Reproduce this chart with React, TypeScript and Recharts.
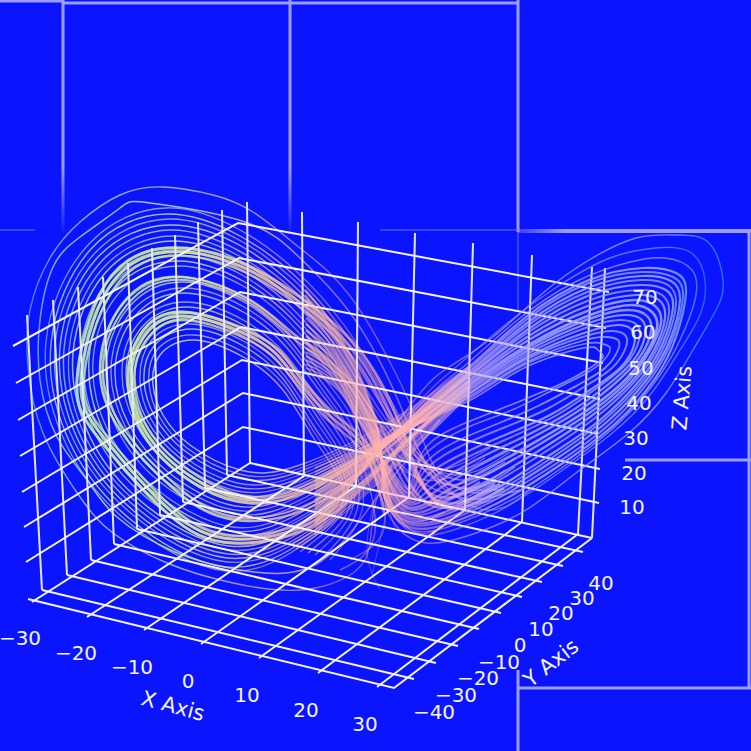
import { LineChart, Line, XAxis, YAxis } from 'recharts'

type Pt = [number, number]

const leftWing: Pt[][] = [
  [[500,490],[445,480],[418,425],[395,372],[350,296],[300,248],[253,212],[213,195],[163,187],[120,195],[80,222],[50,258],[30,310],[28,367],[43,433],[80,497],[113,533],[167,563],[233,583],[300,590],[353,573],[370,543],[375,505],[392,465]],
  [[520,490],[445,490],[398,400],[348,310],[300,258],[245,222],[150,203],[120,208],[80,237],[53,267],[40,320],[40,380],[57,437],[87,480],[117,517],[175,552],[240,570],[315,565],[375,500],[440,420]],
  [[525,482],[458,498],[395,408],[344,325],[295,270],[240,230],[166,208],[88,245],[46,342],[66,444],[128,522],[226,571],[314,537],[395,468],[470,394]],
  [[505,462],[438,482],[393,410],[342,329],[294,275],[240,236],[167,214],[91,249],[51,344],[70,443],[130,519],[226,567],[314,534],[395,466],[470,393]],
  [[535,486],[470,505],[390,413],[341,334],[294,280],[241,241],[169,219],[94,254],[55,345],[74,441],[133,515],[227,562],[313,531],[395,464],[470,391]],
  [[515,458],[450,478],[388,415],[340,339],[293,285],[241,246],[170,225],[97,258],[60,347],[78,440],[135,512],[227,558],[313,528],[395,462],[470,390]],
  [[525,470],[462,490],[385,418],[339,343],[293,290],[241,252],[171,230],[100,263],[64,349],[82,439],[138,509],[228,554],[312,525],[395,460],[470,389]],
  [[505,450],[442,470],[383,421],[337,348],[292,295],[241,257],[172,236],[103,268],[69,351],[86,438],[141,506],[229,550],[311,522],[394,458],[470,388]],
  [[515,467],[452,486],[380,423],[336,353],[292,300],[242,262],[173,241],[106,272],[73,353],[90,437],[143,503],[229,546],[311,519],[394,456],[470,387]],
  [[500,484],[436,500],[400,425],[357,347],[300,297],[240,262],[167,248],[105,285],[77,380],[100,440],[167,513],[233,543],[320,522],[394,455],[470,386]],
  [[504,488],[440,505],[397,429],[354,351],[298,301],[240,266],[168,252],[108,289],[81,380],[104,438],[170,510],[234,539],[318,519],[394,453],[470,385]],
  [[496,480],[433,495],[395,432],[351,355],[296,304],[240,270],[169,256],[111,293],[84,380],[107,436],[172,507],[235,536],[316,516],[394,452],[470,385]],
  [[510,452],[448,474],[377,427],[334,360],[291,307],[242,270],[175,250],[110,279],[80,355],[96,435],[147,498],[230,539],[310,514],[394,453],[470,385]],
  [[490,448],[430,470],[374,430],[333,364],[290,312],[242,275],[176,255],[113,284],[84,357],[100,434],[150,495],[231,535],[309,512],[394,451],[470,384]],
  [[505,470],[442,492],[372,432],[332,369],[290,317],[243,281],[178,261],[116,288],[89,359],[104,432],[152,491],[231,531],[309,508],[394,449],[470,382]],
  [[485,458],[425,480],[369,435],[330,374],[289,322],[243,286],[179,266],[119,293],[93,361],[108,431],[155,488],[232,527],[308,505],[394,447],[470,381]],
  [[495,484],[430,505],[385,435],[345,375],[295,335],[245,297],[170,277],[118,310],[100,370],[120,430],[175,490],[235,520],[315,505],[393,445],[470,380]],
  [[480,482],[420,500],[382,438],[342,378],[293,338],[245,300],[172,280],[121,313],[103,370],[123,428],[178,487],[236,517],[313,502],[393,444],[470,380]],
  [[450,522],[405,525],[364,440],[328,383],[288,332],[244,297],[181,277],[125,302],[102,364],[117,429],[160,482],[233,518],[307,500],[393,443],[470,379]],
  [[445,512],[398,515],[361,443],[326,388],[288,338],[244,302],[182,282],[129,307],[106,366],[121,428],[163,479],[234,514],[306,497],[393,441],[470,378]],
  [[350,560],[385,522],[359,445],[325,393],[288,343],[244,307],[184,288],[132,311],[111,368],[125,426],[165,475],[234,510],[306,493],[393,439],[470,376]],
  [[340,570],[375,532],[356,448],[324,397],[287,348],[245,313],[185,293],[135,316],[115,370],[129,425],[168,472],[235,506],[305,490],[393,437],[470,375]],
  [[392,510],[372,450],[333,413],[295,370],[260,337],[183,312],[140,335],[128,380],[147,440],[200,487],[250,503],[310,490],[393,436],[470,374]],
  [[388,512],[369,453],[330,416],[292,373],[257,340],[184,316],[143,338],[131,380],[150,438],[203,484],[252,500],[309,487],[393,435],[470,374]],
  [[384,514],[366,456],[327,419],[290,376],[254,343],[185,320],[146,341],[134,380],[153,436],[206,481],[254,497],[308,484],[393,434],[470,373]],
  [[330,560],[362,510],[353,452],[322,404],[286,355],[245,321],[187,302],[139,323],[122,372],[135,423],[172,467],[235,499],[304,486],[393,434],[470,373]],
  [[322,558],[357,510],[350,454],[321,409],[286,360],[245,326],[188,307],[142,327],[126,374],[139,422],[174,464],[236,495],[304,483],[393,432],[470,372]],
  [[315,555],[352,510],[347,457],[319,414],[285,365],[245,331],[189,313],[145,332],[131,376],[143,421],[177,461],[237,491],[303,480],[393,430],[470,371]],
  [[308,553],[349,509],[344,460],[318,418],[285,370],[245,337],[190,318],[148,337],[135,378],[147,420],[180,458],[237,487],[303,477],[393,428],[470,370]],
  [[300,552],[345,508],[342,462],[317,423],[284,375],[245,342],[191,324],[151,341],[140,380],[151,419],[182,455],[237,483],[302,474],[392,426],[470,369]],
  [[296,549],[343,508],[340,465],[315,428],[284,380],[245,347],[193,329],[154,346],[144,381],[155,417],[185,451],[238,478],[301,471],[392,424],[470,367]],
  [[293,547],[341,508],[337,467],[314,432],[284,385],[245,353],[194,335],[157,350],[149,383],[159,416],[187,448],[239,474],[301,468],[392,422],[470,366]],
  [[290,545],[340,508],[335,470],[313,437],[283,390],[245,358],[195,340],[160,355],[153,385],[163,415],[190,445],[240,470],[300,465],[392,420],[470,365]],
]
const leftWidths = [1.4,1.5,1.3,1.4,1.3,1.4,1.5,1.3,1.5,3,3,2.4,1.4,1.3,1.4,1.3,2.4,2.2,1.3,1.4,1.3,1.4,3,3,2.4,1.3,1.4,1.3,1.4,1.3,1.4,1.3,1.4]
const leftOpacity = [0.7,0.8,0.65,0.8,0.65,0.8,0.7,0.65,0.8,0.95,0.95,0.85,0.7,0.65,0.8,0.65,0.9,0.85,0.65,0.75,0.65,0.75,0.95,0.95,0.85,0.65,0.75,0.65,0.75,0.65,0.75,0.65,0.8]

const rightWing: Pt[][] = [
  [[315,535],[409,407],[449,367],[493,337],[543,293],[589,260],[636,238],[676,235],[709,243],[723,280],[716,310],[693,350],[666,393],[629,433],[576,473],[526,510],[476,533],[426,543],[392,520],[372,470],[350,400]],
  [[315,531],[412,410],[455,368],[505,325],[560,285],[610,258],[655,248],[690,252],[705,280],[700,315],[680,350],[650,395],[610,435],[560,472],[510,505],[465,526],[420,535],[390,510],[370,460],[342,385]],
  [[315,528],[414,411],[462,368],[515,322],[575,282],[630,262],[665,258],[692,270],[695,300],[680,340],[660,375],[622,420],[570,462],[515,498],[462,522],[415,531],[386,500],[366,440],[338,368]],
  [[315,524],[416,413],[469,367],[526,317],[589,280],[643,268],[676,273],[686,293],[676,337],[656,377],[616,423],[563,463],[509,497],[459,520],[409,527],[383,490],[378,430],[345,345],[305,290]],
  [[315,521],[416,413],[469,369],[526,320],[589,283],[642,272],[673,277],[683,296],[673,338],[652,377],[612,422],[560,461],[506,494],[457,517],[408,524],[384,489],[378,431],[345,349],[305,295]],
  [[315,517],[417,414],[470,371],[527,323],[590,287],[642,276],[671,281],[680,300],[670,340],[648,378],[608,421],[556,459],[503,492],[455,515],[408,522],[384,488],[378,432],[345,352],[306,300]],
  [[315,514],[417,415],[470,373],[527,326],[590,291],[641,280],[668,285],[676,304],[666,342],[644,379],[604,420],[553,457],[500,490],[452,512],[408,519],[385,486],[377,433],[345,356],[306,306]],
  [[315,510],[418,416],[470,375],[527,330],[590,295],[640,285],[666,290],[673,308],[662,345],[640,380],[600,420],[550,455],[497,488],[450,510],[408,517],[385,485],[377,434],[345,360],[306,312]],
  [[315,507],[418,417],[470,376],[527,333],[590,300],[638,290],[662,295],[669,313],[658,347],[635,381],[595,418],[545,452],[494,483],[447,506],[408,514],[386,483],[376,435],[345,364],[306,318]],
  [[315,503],[419,418],[471,378],[527,337],[590,305],[636,295],[659,300],[665,318],[654,350],[630,383],[590,417],[540,450],[491,479],[445,502],[408,512],[386,481],[376,436],[345,368],[306,324]],
  [[315,500],[419,419],[471,380],[527,341],[590,310],[634,300],[655,306],[661,323],[649,352],[625,384],[585,416],[535,447],[488,474],[442,498],[408,509],[387,479],[375,437],[345,371],[306,330]],
  [[315,496],[420,420],[472,382],[528,345],[590,315],[632,305],[652,312],[657,328],[645,355],[620,385],[580,415],[530,445],[485,470],[440,495],[408,507],[387,478],[375,438],[345,374],[306,336]],
  [[315,493],[420,420],[472,384],[527,348],[589,319],[628,310],[647,316],[651,332],[639,358],[612,386],[572,415],[522,443],[478,466],[436,491],[408,504],[387,476],[374,439],[344,377],[306,342]],
  [[315,489],[420,421],[473,386],[527,351],[589,323],[625,315],[642,320],[645,336],[633,361],[605,387],[565,415],[515,441],[472,462],[432,487],[408,502],[387,475],[374,440],[344,380],[306,348]],
  [[315,486],[420,422],[473,388],[527,354],[588,327],[621,320],[637,325],[639,340],[626,364],[597,388],[557,415],[507,439],[466,458],[428,482],[408,500],[388,473],[373,441],[344,383],[306,352]],
  [[315,482],[420,423],[474,390],[527,357],[587,332],[618,325],[632,330],[634,345],[620,368],[590,390],[550,415],[500,437],[460,455],[425,478],[408,498],[388,472],[373,442],[344,386],[306,356]],
  [[315,479],[419,423],[474,391],[527,359],[586,336],[613,331],[625,335],[626,347],[612,368],[584,387],[545,410],[498,430],[457,448],[423,473],[408,496],[389,471],[372,442],[343,388],[306,360]],
  [[315,475],[418,424],[475,393],[527,362],[585,340],[608,337],[618,340],[618,350],[605,368],[578,385],[540,405],[497,424],[455,442],[422,468],[409,494],[389,470],[372,443],[342,390],[306,364]],
  [[315,472],[416,424],[475,395],[526,364],[584,344],[603,344],[610,348],[604,360],[585,374],[553,390],[512,410],[473,425],[436,445],[415,470],[407,492],[390,469],[372,443],[341,391],[306,368]],
  [[315,468],[415,425],[476,397],[526,367],[583,348],[598,350],[603,357],[590,368],[565,382],[530,397],[493,412],[450,430],[420,457],[410,490],[390,468],[372,444],[340,392],[305,372]],
  [[380,590],[368,560],[370,520],[385,470],[410,430]],
  [[395,528],[388,500],[392,465],[408,430]],
  [[372,575],[380,540],[392,495],[415,445]],
]
const rightWidths = [1.4,1.4,1.5,2.2,2,2.2,2,2.2,2,2.2,2.4,2.6,2.4,2.2,2,2.2,2,1.8,1.6,1.6,1,1,1]
const rightOpacity = [0.75,0.6,0.7,0.85,0.75,0.85,0.75,0.85,0.75,0.85,0.85,0.9,0.85,0.85,0.75,0.85,0.75,0.8,0.75,0.8,0.5,0.5,0.5]

// floor and wall grid
const xGrid: Pt[][] = [
  [[32,602],[250,463]], [[87,617],[304,476]], [[144,630],[356,486]], [[201,644],[409,497]],
  [[259,658],[465,510]], [[318,673],[522,522]], [[377,687],[578,534]],
]
const yGrid: Pt[][] = [
  [[227,475],[583,552]], [[205,488],[563,566]], [[183,502],[542,582]], [[160,515],[522,597]], [[137,529],[501,613]],
  [[114,544],[479,629]], [[91,560],[458,646]], [[67,575],[436,663]], [[42,590],[414,679]],
]
const floorEdges: Pt[][] = [
  [[28,599],[394,688],[592,538]],
  [[250,463],[592,538]],
]
const wallVerticals: Pt[][] = [
  [[27,315],[42,590]], [[53,300],[67,575]], [[78,287],[91,560]], [[103,277],[114,544]], [[128,263],[137,529]],
  [[152,248],[160,515]], [[175,235],[183,502]], [[198,222],[205,488]], [[222,210],[227,475]], [[247,202],[250,463]],
  [[302,212],[304,476]], [[358,222],[356,486]], [[415,233],[409,497]], [[473,243],[465,510]], [[532,255],[522,522]],
  [[592,267],[578,534]], [[605,268],[592,538]],
]
const zGrid: Pt[][] = [
  [[13,346],[238,223],[609,292]], [[16,383],[239,258],[606,328]], [[18,420],[240,292],[603,363]], [[20,456],[241,327],[600,399]],
  [[22,492],[242,360],[598,434]], [[24,527],[243,393],[600,469]], [[26,562],[243,427],[599,503]],
]

// the lavender panel lines behind the plot
const panelSolid: Pt[][] = [
  [[0,1],[63,1]], [[63,3],[518,3]], [[749,230],[749,688]], [[518,688],[751,688]], [[518,670],[518,751]], [[518,0],[518,232]],
]
const panelFading: Pt[][] = [[[63,0],[63,232]], [[290,0],[290,232]]]
const panelAcross: Pt[][] = [[[518,231],[751,231]], [[625,460],[751,460]]]
const panelFaint: Pt[][] = [[[0,230],[35,230]], [[380,230],[518,230]], [[518,232],[518,310]]]

const xTickText = ['\u221230', '\u221220', '\u221210', '0', '10', '20', '30']
const xTickAt: Pt[] = [[20,638],[76,653],[132,667],[188,681],[247,695],[306,710],[365,724]]
const yTickText = ['\u221240', '\u221230', '\u221220', '\u221210', '0', '10', '20', '30', '40']
const yTickAt: Pt[] = [[434,712],[456,695],[478,678],[499,662],[520,645],[541,629],[561,613],[582,598],[601,583]]
const zTickText = ['10', '20', '30', '40', '50', '60', '70']
const zTickAt: Pt[] = [[632,507],[634,473],[636,438],[639,403],[641,368],[643,332],[645,297]]

const toRows = (pts: Pt[]) => pts.map(([x, y]) => ({ x, y }))

function strokes(id: string, list: Pt[][], stroke: string, width: number | number[], opacity: number | number[] = 1, curve: 'linear' | 'natural' = 'linear') {
  return list.map((pts, i) => (
    <Line
      key={id + i}
      data={toRows(pts)}
      dataKey="y"
      type={curve}
      stroke={stroke}
      strokeWidth={Array.isArray(width) ? width[i] : width}
      strokeOpacity={Array.isArray(opacity) ? opacity[i] : opacity}
      dot={false}
      activeDot={false}
      legendType="none"
      isAnimationActive={false}
    />
  ))
}

function labels(id: string, at: Pt[], text: string[], size: number, angle = 0) {
  return (
    <Line
      key={id}
      data={toRows(at)}
      dataKey="y"
      stroke="none"
      activeDot={false}
      legendType="none"
      isAnimationActive={false}
      dot={(p: any) => (
        <text
          key={id + p.index}
          x={p.cx}
          y={p.cy}
          fill="#f4f4ff"
          fontFamily="DejaVu Sans"
          fontSize={size}
          textAnchor="middle"
          dominantBaseline="central"
          transform={angle ? `rotate(${angle} ${p.cx} ${p.cy})` : undefined}
        >
          {text[p.index]}
        </text>
      )}
    />
  )
}

export default function App() {
  return (
    <div style={{ position: 'absolute', left: 0, top: 0, width: 751, height: 751, background: '#0b14ff' }}>
      <LineChart width={751} height={751} margin={{ top: 0, right: 0, bottom: 0, left: 0 }}>
        <defs>
          <linearGradient id="wing" gradientUnits="userSpaceOnUse" x1="0" y1="0" x2="751" y2="0">
            <stop offset="0.03" stopColor="#4aa6ff" />
            <stop offset="0.07" stopColor="#9fd4e6" />
            <stop offset="0.13" stopColor="#c4e8a4" />
            <stop offset="0.24" stopColor="#cfe6a0" />
            <stop offset="0.36" stopColor="#f0cca4" stopOpacity="0.9" />
            <stop offset="0.48" stopColor="#ffb2a8" stopOpacity="0.6" />
            <stop offset="0.56" stopColor="#ffb0b4" stopOpacity="0.62" />
            <stop offset="0.65" stopColor="#b8a8f6" stopOpacity="0.85" />
            <stop offset="0.74" stopColor="#a4a6ff" />
            <stop offset="0.89" stopColor="#9aa4ff" />
            <stop offset="0.95" stopColor="#2f94ff" />
          </linearGradient>
          <linearGradient id="panelDown" gradientUnits="userSpaceOnUse" x1="0" y1="0" x2="0" y2="232">
            <stop offset="0.72" stopColor="#9c9eff" />
            <stop offset="1" stopColor="#9c9eff" stopOpacity="0.05" />
          </linearGradient>
          <linearGradient id="panelAcrossFade" gradientUnits="userSpaceOnUse" x1="518" y1="0" x2="680" y2="0">
            <stop offset="0" stopColor="#9c9eff" stopOpacity="0.3" />
            <stop offset="0.3" stopColor="#9c9eff" />
          </linearGradient>
        </defs>
        <XAxis dataKey="x" type="number" domain={[0, 751]} allowDataOverflow hide />
        <YAxis dataKey="y" type="number" domain={[0, 751]} reversed allowDataOverflow hide />

        {strokes('panel', panelSolid, '#9c9eff', 3)}
        {strokes('fade', panelFading, 'url(#panelDown)', 3)}
        {strokes('across', [panelAcross[0]], 'url(#panelAcrossFade)', 4)}
        {strokes('across2', [panelAcross[1]], '#9c9eff', 3)}
        {strokes('faint', panelFaint, '#6a6eff', 2, 0.5)}

        {strokes('left', leftWing, 'url(#wing)', leftWidths, leftOpacity, 'natural')}

        {strokes('xg', xGrid, '#f4f4ff', 2)}
        {strokes('yg', yGrid, '#f4f4ff', 2)}
        {strokes('edge', floorEdges, '#f4f4ff', 2)}
        {strokes('wall', wallVerticals, '#e6e6ff', 2)}
        {strokes('zg', zGrid, '#f4f4ff', 2)}
        {labels('zt', zTickAt, zTickText, 20)}

        {strokes('right', rightWing, 'url(#wing)', rightWidths, rightOpacity, 'natural')}

        {labels('xt', xTickAt, xTickText, 20)}
        {labels('yt', yTickAt, yTickText, 20)}
        {labels('xl', [[173,706]], ['X Axis'], 21, 15)}
        {labels('yl', [[551,663]], ['Y Axis'], 21, -38)}
        {labels('zl', [[682,398]], ['Z Axis'], 21, -85)}
      </LineChart>
    </div>
  )
}
